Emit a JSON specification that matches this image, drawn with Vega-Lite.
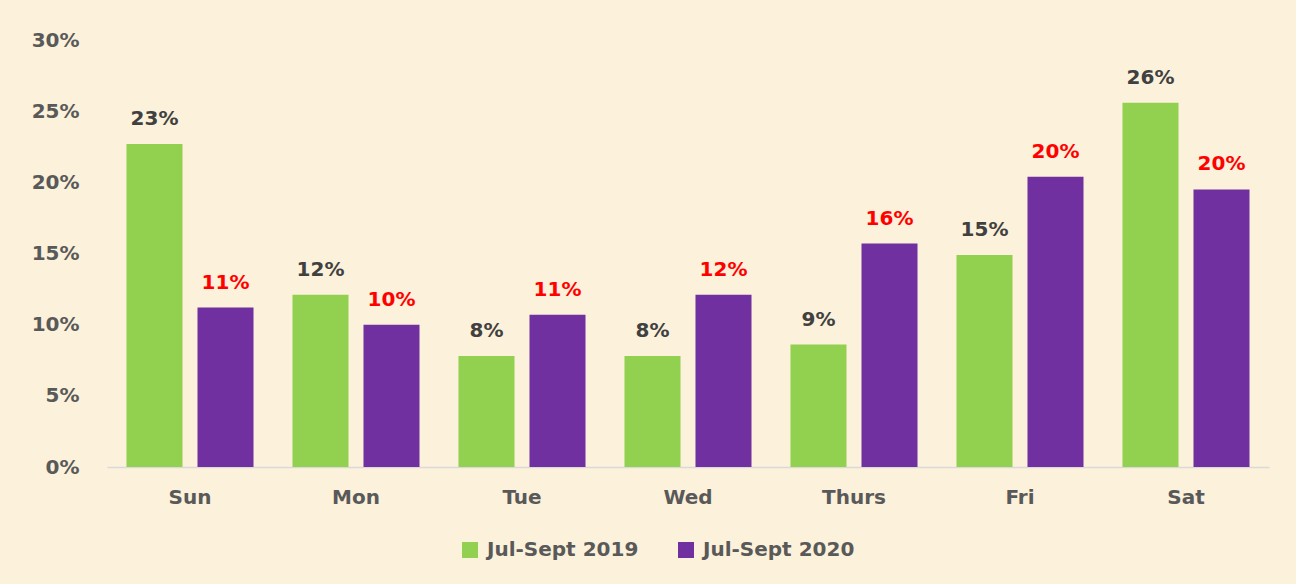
{
  "$schema": "https://vega.github.io/schema/vega-lite/v6.json",
  "width": 1162,
  "height": 427,
  "autosize": {"type": "none"},
  "padding": {"left": 107, "top": 40, "right": 27, "bottom": 117},
  "background": "#FCF1DA",
  "config": {
    "view": {"stroke": null},
    "font": "DejaVu Sans"
  },
  "data": {
    "values": [
      {"day": "Sun", "period": "Jul-Sept 2019", "value": 0.227},
      {"day": "Sun", "period": "Jul-Sept 2020", "value": 0.112},
      {"day": "Mon", "period": "Jul-Sept 2019", "value": 0.121},
      {"day": "Mon", "period": "Jul-Sept 2020", "value": 0.100},
      {"day": "Tue", "period": "Jul-Sept 2019", "value": 0.078},
      {"day": "Tue", "period": "Jul-Sept 2020", "value": 0.107},
      {"day": "Wed", "period": "Jul-Sept 2019", "value": 0.078},
      {"day": "Wed", "period": "Jul-Sept 2020", "value": 0.121},
      {"day": "Thurs", "period": "Jul-Sept 2019", "value": 0.086},
      {"day": "Thurs", "period": "Jul-Sept 2020", "value": 0.157},
      {"day": "Fri", "period": "Jul-Sept 2019", "value": 0.149},
      {"day": "Fri", "period": "Jul-Sept 2020", "value": 0.204},
      {"day": "Sat", "period": "Jul-Sept 2019", "value": 0.256},
      {"day": "Sat", "period": "Jul-Sept 2020", "value": 0.195}
    ]
  },
  "encoding": {
    "x": {
      "field": "day",
      "type": "nominal",
      "sort": ["Sun", "Mon", "Tue", "Wed", "Thurs", "Fri", "Sat"],
      "scale": {"paddingInner": 0, "paddingOuter": 0},
      "axis": {
        "title": null,
        "labelAngle": 0,
        "ticks": false,
        "labelPadding": 20,
        "labelFontSize": 20,
        "labelFontWeight": "bold",
        "labelColor": "#595959",
        "domainColor": "#D9D9D9",
        "domainWidth": 1.5
      }
    },
    "xOffset": {
      "field": "period",
      "type": "nominal",
      "scale": {"paddingInner": 0.211, "paddingOuter": 0.2745}
    },
    "y": {
      "field": "value",
      "type": "quantitative",
      "scale": {"domain": [0, 0.3]},
      "axis": {
        "title": null,
        "format": ".0%",
        "values": [0, 0.05, 0.1, 0.15, 0.2, 0.25, 0.3],
        "grid": false,
        "domain": false,
        "ticks": false,
        "labelPadding": 28,
        "labelFontSize": 20,
        "labelFontWeight": "bold",
        "labelColor": "#595959"
      }
    }
  },
  "layer": [
    {
      "mark": {"type": "bar"},
      "encoding": {
        "color": {
          "field": "period",
          "type": "nominal",
          "scale": {"domain": ["Jul-Sept 2019", "Jul-Sept 2020"], "range": ["#92D050", "#7030A0"]},
          "legend": {
            "title": null,
            "orient": "none",
            "direction": "horizontal",
            "legendX": 353,
            "legendY": 500,
            "padding": 0,
            "symbolType": "square",
            "symbolSize": 256,
            "symbolStrokeWidth": 0,
            "symbolOpacity": 1,
            "labelFontSize": 20,
            "labelFontWeight": "bold",
            "labelColor": "#595959",
            "labelOffset": 7,
            "columnPadding": 37,
            "labelLimit": 300
          }
        }
      }
    },
    {
      "mark": {"type": "text", "baseline": "bottom", "dy": -15, "fontSize": 20, "fontWeight": "bold"},
      "encoding": {
        "text": {"field": "value", "type": "quantitative", "format": ".0%"},
        "color": {
          "condition": {"test": "datum.period === 'Jul-Sept 2020'", "value": "#FF0000"},
          "value": "#404040"
        }
      }
    }
  ]
}
